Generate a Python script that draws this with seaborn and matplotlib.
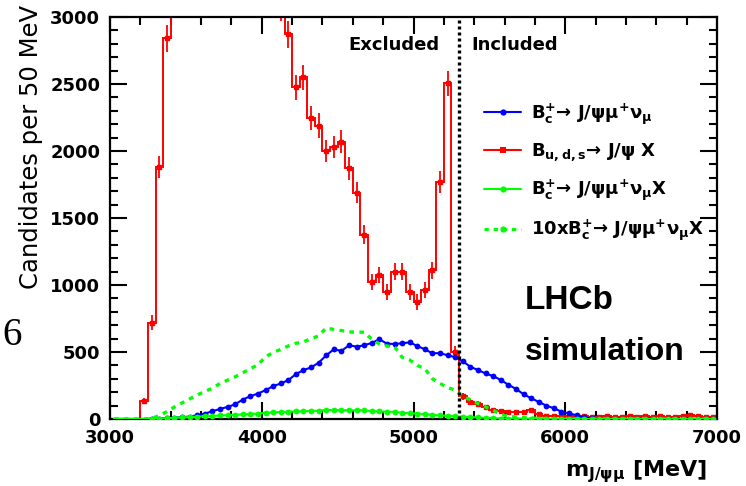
import numpy as np
import pandas as pd
import matplotlib
matplotlib.use("Agg")
import matplotlib.pyplot as plt
from matplotlib.lines import Line2D
from matplotlib.ticker import MultipleLocator
import seaborn as sns

# 50 MeV bins from 3000 to 7000 MeV
bin_edges = np.arange(3000, 7001, 50)
bin_centers = bin_edges[:-1] + 25

# B_c+ -> J/psi mu+ nu_mu
bc_signal = [
    0, 0, 0, 0, 0, 2, 3, 6, 10, 14,
    18, 28, 40, 58, 75, 90, 110, 145, 170, 190,
    215, 245, 265, 290, 335, 365, 385, 420, 475, 520,
    508, 550, 540, 550, 568, 595, 562, 560, 565, 572,
    545, 520, 490, 492, 475, 462, 430, 390, 365, 340,
    320, 292, 255, 225, 185, 155, 128, 100, 80, 55,
    42, 28, 12, 5, 2, 1, 0, 1, 0, 0,
    1, 0, 0, 0, 1, 0, 0, 0, 0, 0,
]

# B_u,d,s -> J/psi X (bins 3400-4150 run off the top of the frame)
buds_bkg = [
    0, 0, 0, 0, 135, 720, 1880, 2840, 3350, 3800,
    4150, 4400, 4550, 4600, 4580, 4500, 4380, 4200, 4000, 3750,
    3500, 3250, 3080, 2870, 2475, 2550, 2245, 2190, 2000, 2030,
    2070, 1870, 1690, 1375, 1025, 1075, 945, 1100, 1100, 950,
    875, 965, 1110, 1770, 2505, 500, 170, 130, 115, 90,
    68, 62, 55, 50, 52, 65, 35, 25, 22, 20,
    25, 15, 20, 15, 18, 25, 15, 18, 20, 15,
    22, 18, 20, 15, 18, 25, 28, 20, 15, 12,
]
buds_err = [
    0, 0, 0, 0, 25, 55, 85, 100, 110, 110,
    110, 110, 110, 110, 110, 110, 110, 110, 110, 110,
    110, 110, 110, 100, 95, 95, 90, 90, 85, 85,
    85, 85, 80, 70, 60, 62, 60, 65, 65, 60,
    58, 60, 65, 80, 95, 45, 25, 22, 20, 18,
    16, 15, 14, 14, 14, 15, 12, 10, 9, 9,
    10, 8, 9, 8, 8, 10, 8, 8, 9, 8,
    9, 8, 9, 8, 8, 10, 10, 9, 8, 7,
]

# B_c+ -> J/psi mu+ nu_mu X
bc_feed = [
    0, 0, 0, 0, 0, 0.5, 2.5, 5.5, 9.0, 12.0,
    15.0, 18.0, 20.5, 23.0, 26.5, 29.0, 31.5, 34.5, 37.5, 40.5,
    46.5, 49.5, 52.0, 54.5, 56.5, 57.5, 60.0, 62.0, 68.0, 66.8,
    66.0, 65.0, 64.8, 64.8, 59.5, 56.0, 54.5, 54.0, 46.0, 44.0,
    40.0, 37.5, 30.0, 26.5, 23.5, 21.5, 16.5, 14.5, 11.5, 9.0,
    6.5, 3.5, 2.0, 1.5, 1.0, 0.8, 0.5, 0.3, 0.2, 0,
    0, 0, 0, 0, 0, 0, 0, 0, 0, 0,
    0, 0, 0, 0, 0, 0, 0, 0, 0, 0,
]
feed_scale = 10

cut_mass = 5300

df = pd.DataFrame({
    "m": bin_centers,
    "bc_signal": bc_signal,
    "bc_feed": bc_feed,
    "bc_feed_x10": np.array(bc_feed) * feed_scale,
})

BLUE = "#0000ff"
RED = "#ff0000"
GREEN = "#00ff00"

sns.set_style("ticks")
plt.rcParams["font.family"] = ["DejaVu Sans"]
plt.rcParams["text.color"] = "black"
plt.rcParams["axes.labelcolor"] = "black"
plt.rcParams["mathtext.fontset"] = "custom"
plt.rcParams["mathtext.rm"] = "DejaVu Sans:bold"
plt.rcParams["mathtext.it"] = "DejaVu Sans:bold"
plt.rcParams["mathtext.bf"] = "DejaVu Sans:bold"

fig = plt.figure(figsize=(7.46, 4.86), dpi=100)
ax = fig.add_axes([110 / 746, 1 - 419 / 486, 607 / 746, 402 / 486])

# markers only where the MC has entries
has_marks = list(df["m"] >= 3250)

# background: step histogram + error bars
ax.stairs(buds_bkg[4:], bin_edges[4:], baseline=0, color=RED, linewidth=1.4, zorder=2)
ax.errorbar(bin_centers[4:], buds_bkg[4:], yerr=buds_err[4:], fmt="s", ms=3,
            color=RED, elinewidth=1.3, capsize=0, zorder=2)

sns.lineplot(data=df, x="m", y="bc_signal", color=BLUE, linewidth=1.5,
             marker="o", markersize=4.2, markeredgewidth=0,
             markevery=has_marks, ax=ax, zorder=3)
sns.lineplot(data=df, x="m", y="bc_feed", color=GREEN, linewidth=1.5,
             marker="o", markersize=4.2, markeredgewidth=0,
             markevery=has_marks, ax=ax, zorder=4)
sns.lineplot(data=df, x="m", y="bc_feed_x10", color=GREEN, linewidth=2.4,
             linestyle=(0, (1.4, 1.6)), ax=ax, zorder=4)

ax.axvline(cut_mass, color="black", linewidth=2.4, linestyle=(0, (0.9, 0.9)), zorder=5)

ax.set_xlim(3000, 7000)
ax.set_ylim(0, 3000)
ax.xaxis.set_major_locator(MultipleLocator(1000))
ax.xaxis.set_minor_locator(MultipleLocator(200))
ax.yaxis.set_major_locator(MultipleLocator(500))
ax.yaxis.set_minor_locator(MultipleLocator(100))
ax.tick_params(which="both", direction="in", top=True, right=True, width=1.5, colors="black")
ax.tick_params(which="major", length=12, labelsize=13, pad=7)
ax.tick_params(which="minor", length=6)
for lab in ax.get_xticklabels() + ax.get_yticklabels():
    lab.set_fontweight("bold")
for sp in ax.spines.values():
    sp.set_linewidth(1.6)
    sp.set_color("black")

ax.set_ylabel("Candidates per 50 MeV", fontsize=17.5, loc="top")
ax.yaxis.set_label_coords(-0.110, 1.03)
ax.set_xlabel(r"m$_\mathrm{J/ψμ}$ [MeV]", fontsize=16, fontweight="bold", loc="right")
ax.xaxis.set_label_coords(0.984, -0.097)

ax.text(4871, 2790, "Excluded", ha="center", va="center", fontsize=13, fontweight="bold")
ax.text(5669, 2790, "Included", ha="center", va="center", fontsize=13, fontweight="bold")
ax.text(5735, 888, "LHCb", ha="left", va="center", fontsize=24, fontweight="bold",
        family=["Liberation Sans", "DejaVu Sans"])
ax.text(5735, 500, "simulation", ha="left", va="center", fontsize=23, fontweight="bold",
        family=["Liberation Sans", "DejaVu Sans"])

handles = [
    Line2D([], [], color=BLUE, marker="o", ms=4.5, mew=0, lw=1.5),
    Line2D([], [], color=RED, marker="s", ms=4.5, mew=0, lw=1.5),
    Line2D([], [], color=GREEN, marker="o", ms=4.5, mew=0, lw=1.5),
    Line2D([], [], color=GREEN, marker="o", ms=4.5, mew=0, lw=2.2, ls=(0, (1.4, 1.6))),
]
labels = [
    r"B$_\mathrm{c}^\mathrm{+}$→ J/ψμ$^\mathrm{+}$ν$_\mathrm{μ}$",
    r"B$_\mathrm{u,d,s}$→ J/ψ X",
    r"B$_\mathrm{c}^\mathrm{+}$→ J/ψμ$^\mathrm{+}$ν$_\mathrm{μ}$X",
    r"10xB$_\mathrm{c}^\mathrm{+}$→ J/ψμ$^\mathrm{+}$ν$_\mathrm{μ}$X",
]
leg = ax.legend(handles, labels, loc="upper left", bbox_to_anchor=(0.605, 0.808),
                frameon=False, fontsize=13, handlelength=2.0, handletextpad=0.6,
                labelspacing=0.8, borderaxespad=0)
for t in leg.get_texts():
    t.set_fontweight("bold")

# stray page number from the source document
fig.text(12 / 746, 1 - 335 / 486, "6", ha="center", va="center",
         fontsize=28, family=["Liberation Serif", "DejaVu Serif"])

fig.savefig("out.png", dpi=100, facecolor="white")
